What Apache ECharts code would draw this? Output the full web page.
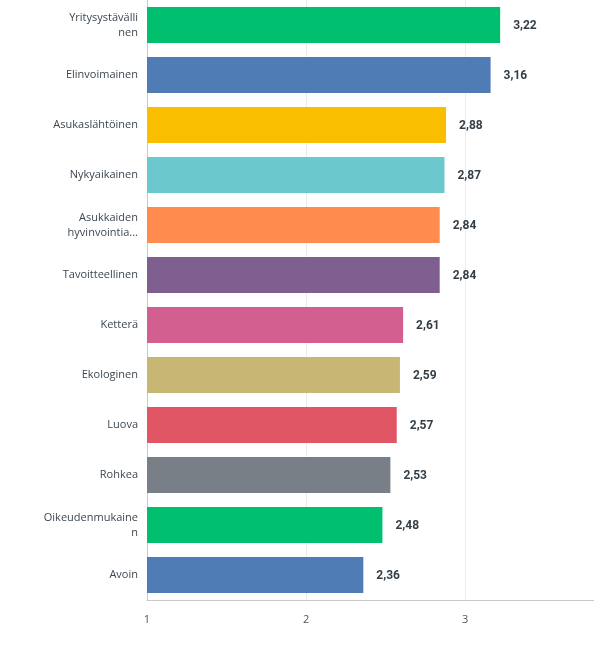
<!DOCTYPE html>
<html><head><meta charset="utf-8">
<script src="https://cdn.jsdelivr.net/npm/echarts@6/dist/echarts.min.js"></script>
<style>html,body{margin:0;padding:0;background:#fff}#c{width:594px;height:650px}</style>
</head><body><div id="c"></div>
<script>
var categories = ["Yritysystävälli\nnen","Elinvoimainen","Asukaslähtöinen","Nykyaikainen","Asukkaiden\nhyvinvointia...","Tavoitteellinen","Ketterä","Ekologinen","Luova","Rohkea","Oikeudenmukaine\nn","Avoin"];
var values = [3.22,3.16,2.88,2.87,2.84,2.84,2.61,2.59,2.57,2.53,2.48,2.36];
var colors = ["#00bf6f","#507cb6","#f9be00","#6bc8cd","#ff8b4f","#7f5f90","#d25f90","#c8b675","#e05665","#787f87","#00bf6f","#507cb6"];
var chart = echarts.init(document.getElementById('c'));
chart.setOption({
  animation:false,
  grid:{left:147,right:0,top:0,bottom:50,containLabel:false},
  xAxis:{type:'value',min:1,max:3.81,interval:1,
    axisLine:{show:true,lineStyle:{color:'#c8c8c8'}},
    axisTick:{show:false},
    splitLine:{show:true,lineStyle:{color:'#ececec'}},
    axisLabel:{showMaxLabel:false,color:'#555',fontSize:11,fontFamily:'Open Sans',margin:14}},
  yAxis:{type:'category',data:categories,inverse:true,
    axisLine:{show:true,lineStyle:{color:'#c8c8c8'}},
    axisTick:{show:false},
    axisLabel:{color:'#3c4650',fontSize:11,fontFamily:'Open Sans',margin:9,lineHeight:15,align:'right',padding:[4,0,0,0]}},
  series:[{type:'bar',barWidth:36,
    data:values.map(function(v,i){return {value:v,itemStyle:{color:colors[i]}};}),
    label:{show:true,position:'right',distance:13,offset:[0,1],color:'#333e48',fontWeight:'bold',fontSize:12,fontFamily:'Roboto',
      formatter:function(p){return p.value.toFixed(2).replace('.',',');}}}]
});
</script></body></html>
